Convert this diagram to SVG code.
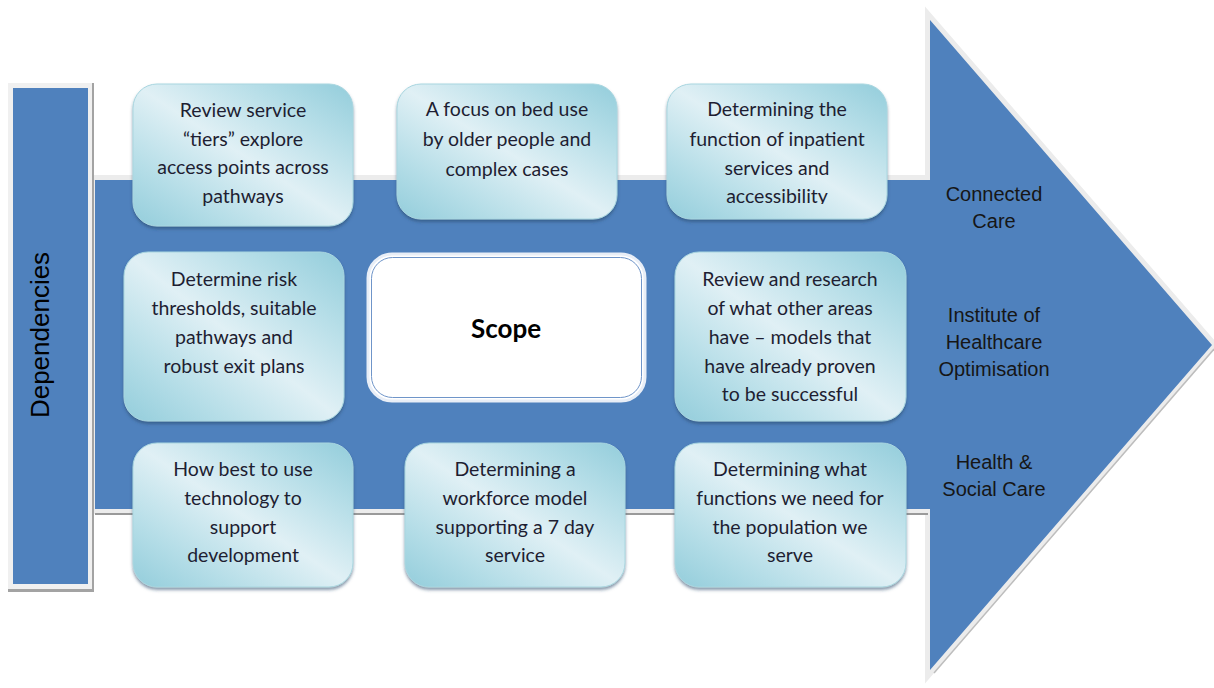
<svg xmlns="http://www.w3.org/2000/svg" width="1214" height="688" viewBox="0 0 1214 688">
<defs>
<linearGradient id="boxg" x1="1" y1="0" x2="0" y2="1">
<stop offset="0" stop-color="#93cddb"/>
<stop offset="0.22" stop-color="#b4dde7"/>
<stop offset="0.5" stop-color="#e0f0f5"/>
<stop offset="0.78" stop-color="#b4dde7"/>
<stop offset="1" stop-color="#93cddb"/>
</linearGradient>
<filter id="sh" x="-10%" y="-10%" width="120%" height="125%">
<feDropShadow dx="0" dy="2.5" stdDeviation="1.5" flood-color="#2a4a6a" flood-opacity="0.55"/>
</filter>
<clipPath id="clip3"><rect x="660" y="80" width="240" height="124"/></clipPath>
<style>
.box{fill:url(#boxg);stroke:#a9d6e0;stroke-width:1;filter:url(#sh)}
.bt{font-family:Lato,"Noto Sans",sans-serif;font-size:19.5px;fill:#1e1e32;text-anchor:middle}
.lab{font-family:"Liberation Sans",Arial,sans-serif;font-size:20px;fill:#161616;text-anchor:middle}
</style>
</defs>
<g id="arrow">
<path d="M95,180 H930 V20 L1212,345 L930,670 V509 H95 Z" fill="none" stroke="#ececec" stroke-width="10" stroke-linejoin="miter"/>
<path d="M95,514 H928" stroke="#9a9a9a" stroke-width="2" fill="none"/>
<path d="M934,673 L1214,349" stroke="#bdbdbd" stroke-width="1.5" fill="none"/>
<path d="M95,180 H930 V20 L1212,345 L930,670 V509 H95 Z" fill="#4f81bd"/>
</g>
<g id="dependencies">
<rect x="8" y="83" width="86" height="509" fill="#a3a3a3"/>
<rect x="8" y="83" width="84" height="506" fill="#f0f0f0"/>
<rect x="13" y="88" width="75" height="496" fill="#4f81bd"/>
<text transform="translate(49,335) rotate(-90)" font-family="'Liberation Sans',Arial,sans-serif" font-size="26" fill="#000" text-anchor="middle">Dependencies</text>
</g>
<g id="connectors"></g>
<g id="n1">
<rect class="box" x="133" y="84" width="220" height="142" rx="24"/>
<text class="bt" x="243" y="117">Review service</text>
<text class="bt" x="243" y="146">“tiers” explore</text>
<text class="bt" x="243" y="174">access points across</text>
<text class="bt" x="243" y="203">pathways</text>
</g>
<g id="n2">
<rect class="box" x="397" y="84" width="220" height="135" rx="24"/>
<text class="bt" x="507" y="116">A focus on bed use</text>
<text class="bt" x="507" y="146">by older people and</text>
<text class="bt" x="507" y="176">complex cases</text>
</g>
<g id="n3">
<rect class="box" x="667" y="84" width="220" height="135" rx="24"/>
<g clip-path="url(#clip3)">
<text class="bt" x="777" y="116">Determining the</text>
<text class="bt" x="777" y="146">function of inpatient</text>
<text class="bt" x="777" y="175">services and</text>
<text class="bt" x="777" y="203">accessibility</text>
</g>
</g>
<g id="n4">
<rect class="box" x="124" y="252" width="220" height="169" rx="24"/>
<text class="bt" x="234" y="286">Determine risk</text>
<text class="bt" x="234" y="315">thresholds, suitable</text>
<text class="bt" x="234" y="344">pathways and</text>
<text class="bt" x="234" y="373">robust exit plans</text>
</g>
<g id="scope">
<rect x="368" y="254" width="277" height="147" rx="24" fill="#ffffff" stroke="#e8eef7" stroke-width="3"/>
<rect x="371.5" y="257.5" width="270" height="140" rx="21" fill="#ffffff" stroke="#6f95c9" stroke-width="1"/>
<text x="506" y="338" font-family="Lato,'Noto Sans',sans-serif" font-size="26" font-weight="bold" fill="#000" text-anchor="middle">Scope</text>
</g>
<g id="n6">
<rect class="box" x="675" y="252" width="231" height="169" rx="24"/>
<text class="bt" x="790" y="286">Review and research</text>
<text class="bt" x="790" y="315">of what other areas</text>
<text class="bt" x="790" y="344">have – models that</text>
<text class="bt" x="790" y="373">have already proven</text>
<text class="bt" x="790" y="401">to be successful</text>
</g>
<g id="n7">
<rect class="box" x="133" y="443" width="220" height="144" rx="24"/>
<text class="bt" x="243" y="476">How best to use</text>
<text class="bt" x="243" y="505">technology to</text>
<text class="bt" x="243" y="534">support</text>
<text class="bt" x="243" y="562">development</text>
</g>
<g id="n8">
<rect class="box" x="405" y="443" width="220" height="144" rx="24"/>
<text class="bt" x="515" y="476">Determining a</text>
<text class="bt" x="515" y="505">workforce model</text>
<text class="bt" x="515" y="534">supporting a 7 day</text>
<text class="bt" x="515" y="562">service</text>
</g>
<g id="n9">
<rect class="box" x="675" y="443" width="231" height="144" rx="24"/>
<text class="bt" x="790" y="476">Determining what</text>
<text class="bt" x="790" y="505">functions we need for</text>
<text class="bt" x="790" y="534">the population we</text>
<text class="bt" x="790" y="562">serve</text>
</g>
<g id="labels">
<text class="lab" x="994" y="201">Connected</text>
<text class="lab" x="994" y="228">Care</text>
<text class="lab" x="994" y="322">Institute of</text>
<text class="lab" x="994" y="349">Healthcare</text>
<text class="lab" x="994" y="376">Optimisation</text>
<text class="lab" x="994" y="469">Health &amp;</text>
<text class="lab" x="994" y="496">Social Care</text>
</g>
</svg>
